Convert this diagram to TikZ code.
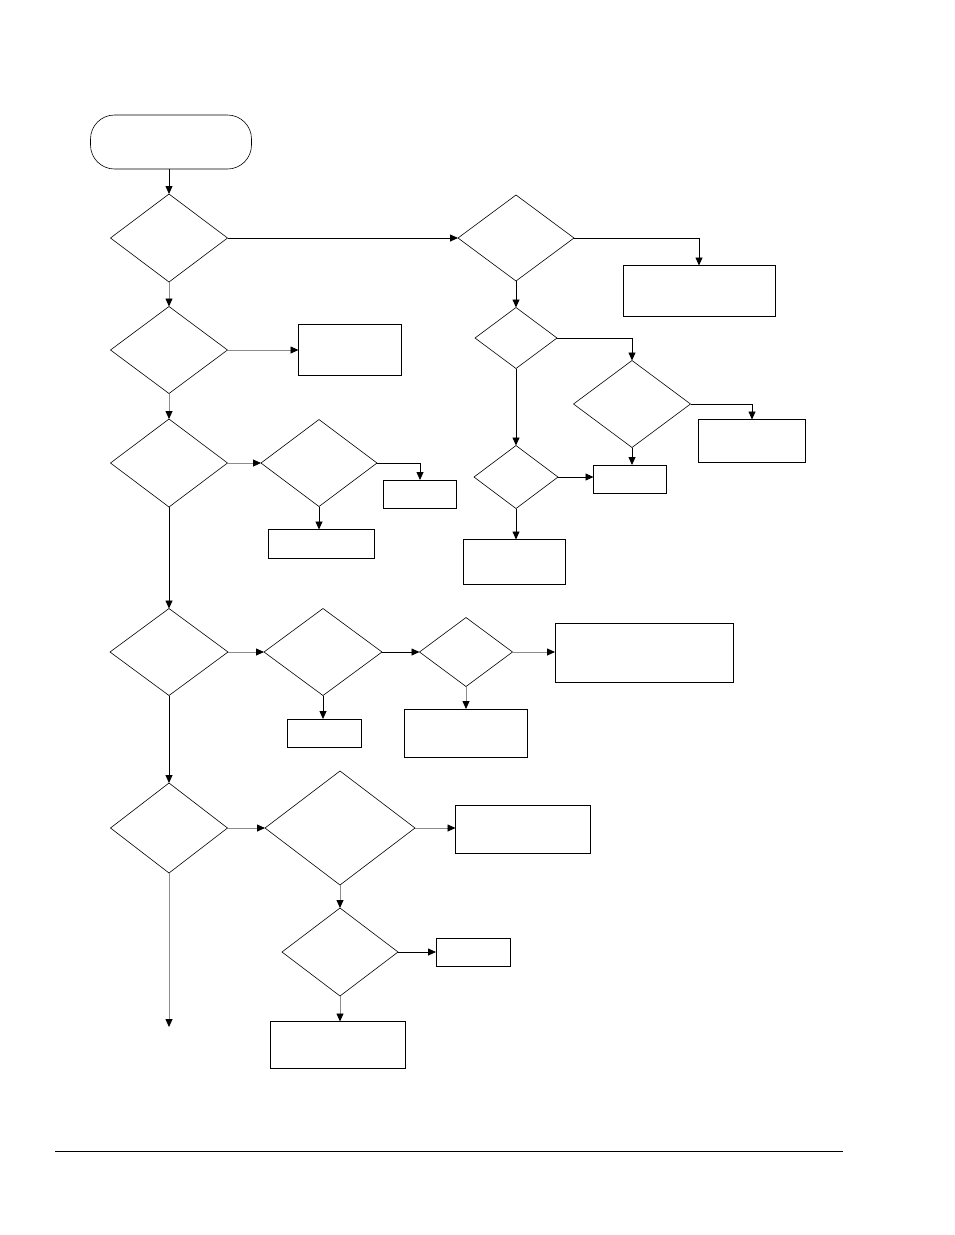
\documentclass[tikz,border=0pt]{standalone}
\usetikzlibrary{arrows.meta,shapes.geometric}
\begin{document}
\begin{tikzpicture}[x = 1pt, y = -1pt]
\tikzstyle{DecisionStyle}=[shape = diamond,
                           draw,
                           inner sep = 0pt,
                           outer sep = 0pt,
                           line width = 0.6pt]
\tikzstyle{BoxStyle}=[shape = rectangle,
                      draw,
                      inner sep = 0pt,
                      outer sep = 0pt,
                      line width = 1pt]
\tikzstyle{FlowStyle}=[-{Triangle[length = 8pt, width = 7pt, color = black]}, line width = 0.8pt]
\tikzstyle{GrayFlowStyle}=[FlowStyle, draw = black!45]
\useasboundingbox (0,0) rectangle (954,1235);
% start
\node[BoxStyle, line width = 0.6pt, rounded corners = 24pt, minimum width = 161pt, minimum height = 54pt] (s0) at (171,142) {};
% left column
\node[DecisionStyle, minimum width = 117pt, minimum height = 88pt] (d1) at (169,238) {};
\node[DecisionStyle, minimum width = 117pt, minimum height = 87pt] (d6) at (169,350) {};
\node[DecisionStyle, minimum width = 117pt, minimum height = 88pt] (d7) at (169,463) {};
\node[DecisionStyle, minimum width = 118pt, minimum height = 87pt] (d9) at (169,652) {};
\node[DecisionStyle, minimum width = 117pt, minimum height = 90pt] (d12) at (169,828) {};
\coordinate (e1) at (169,1027);
% right column
\node[DecisionStyle, minimum width = 116pt, minimum height = 86pt] (d2) at (516,238) {};
\node[DecisionStyle, minimum width = 82pt, minimum height = 61pt] (d3) at (516,338) {};
\node[DecisionStyle, minimum width = 117pt, minimum height = 87pt] (d4) at (632,404) {};
\node[DecisionStyle, minimum width = 84pt, minimum height = 63pt] (d5) at (516,477) {};
\node[BoxStyle, minimum width = 152pt, minimum height = 51pt] (b1) at (699,291) {};
\node[BoxStyle, minimum width = 107pt, minimum height = 43pt] (b2) at (752,441) {};
\node[BoxStyle, minimum width = 73pt, minimum height = 28pt] (b3) at (630,479) {};
\node[BoxStyle, minimum width = 102pt, minimum height = 45pt] (b4) at (514,562) {};
% middle rows
\node[BoxStyle, minimum width = 103pt, minimum height = 51pt] (b5) at (350,350) {};
\node[DecisionStyle, minimum width = 116pt, minimum height = 87pt] (d8) at (319,463) {};
\node[BoxStyle, minimum width = 73pt, minimum height = 28pt] (b6) at (420,494) {};
\node[BoxStyle, minimum width = 106pt, minimum height = 29pt] (b7) at (321,544) {};
\node[DecisionStyle, minimum width = 118pt, minimum height = 87pt] (d10) at (323,652) {};
\node[DecisionStyle, minimum width = 93pt, minimum height = 69pt] (d11) at (466,652) {};
\node[BoxStyle, minimum width = 74pt, minimum height = 28pt] (b8) at (324,733) {};
\node[BoxStyle, minimum width = 178pt, minimum height = 59pt] (b9) at (644,653) {};
\node[BoxStyle, minimum width = 123pt, minimum height = 48pt] (b10) at (466,733) {};
\node[DecisionStyle, minimum width = 150pt, minimum height = 114pt] (d13) at (340,828) {};
\node[BoxStyle, minimum width = 135pt, minimum height = 48pt] (b11) at (523,829) {};
\node[DecisionStyle, minimum width = 116pt, minimum height = 88pt] (d14) at (340,952) {};
\node[BoxStyle, minimum width = 74pt, minimum height = 28pt] (b12) at (473,952) {};
\node[BoxStyle, minimum width = 135pt, minimum height = 47pt] (b13) at (338,1045) {};
% connectors
\draw[FlowStyle] (s0.south -| d1.north) -- (d1.north);
\draw[FlowStyle] (d1.east) -- (d2.west);
\draw[GrayFlowStyle] (d1.south) -- (d6.north);
\draw[GrayFlowStyle] (d6.east) -- (b5.west);
\draw[GrayFlowStyle] (d6.south) -- (d7.north);
\draw[GrayFlowStyle] (d7.east) -- (d8.west);
\draw[FlowStyle] (d8.east) -| (b6.north);
\draw[FlowStyle] (d8.south) -- (d8.south |- b7.north);
\draw[FlowStyle] (d7.south) -- (d9.north);
\draw[FlowStyle] (d2.east) -| (b1.north);
\draw[FlowStyle] (d2.south) -- (d3.north);
\draw[FlowStyle] (d3.east) -| (d4.north);
\draw[FlowStyle] (d4.east) -| (b2.north);
\draw[FlowStyle] (d4.south) -- (d4.south |- b3.north);
\draw[FlowStyle] (d3.south) -- (d5.north);
\draw[FlowStyle] (d5.east) -- (d5.east -| b3.west);
\draw[FlowStyle] (d5.south) -- (d5.south |- b4.north);
\draw[GrayFlowStyle] (d9.east) -- (d10.west);
\draw[FlowStyle] (d10.south) -- (d10.south |- b8.north);
\draw[FlowStyle] (d10.east) -- (d11.west);
\draw[GrayFlowStyle] (d11.east) -- (d11.east -| b9.west);
\draw[GrayFlowStyle] (d11.south) -- (b10.north);
\draw[FlowStyle] (d9.south) -- (d12.north);
\draw[GrayFlowStyle] (d12.east) -- (d13.west);
\draw[GrayFlowStyle] (d13.east) -- (d13.east -| b11.west);
\draw[GrayFlowStyle] (d13.south) -- (d14.north);
\draw[FlowStyle] (d14.east) -- (b12.west);
\draw[GrayFlowStyle] (d14.south) -- (d14.south |- b13.north);
\draw[GrayFlowStyle] (d12.south) -- (e1);
% footer rule
\draw[line width = 0.8pt] (55,1151) -- (843,1151);
\end{tikzpicture}
\end{document}
